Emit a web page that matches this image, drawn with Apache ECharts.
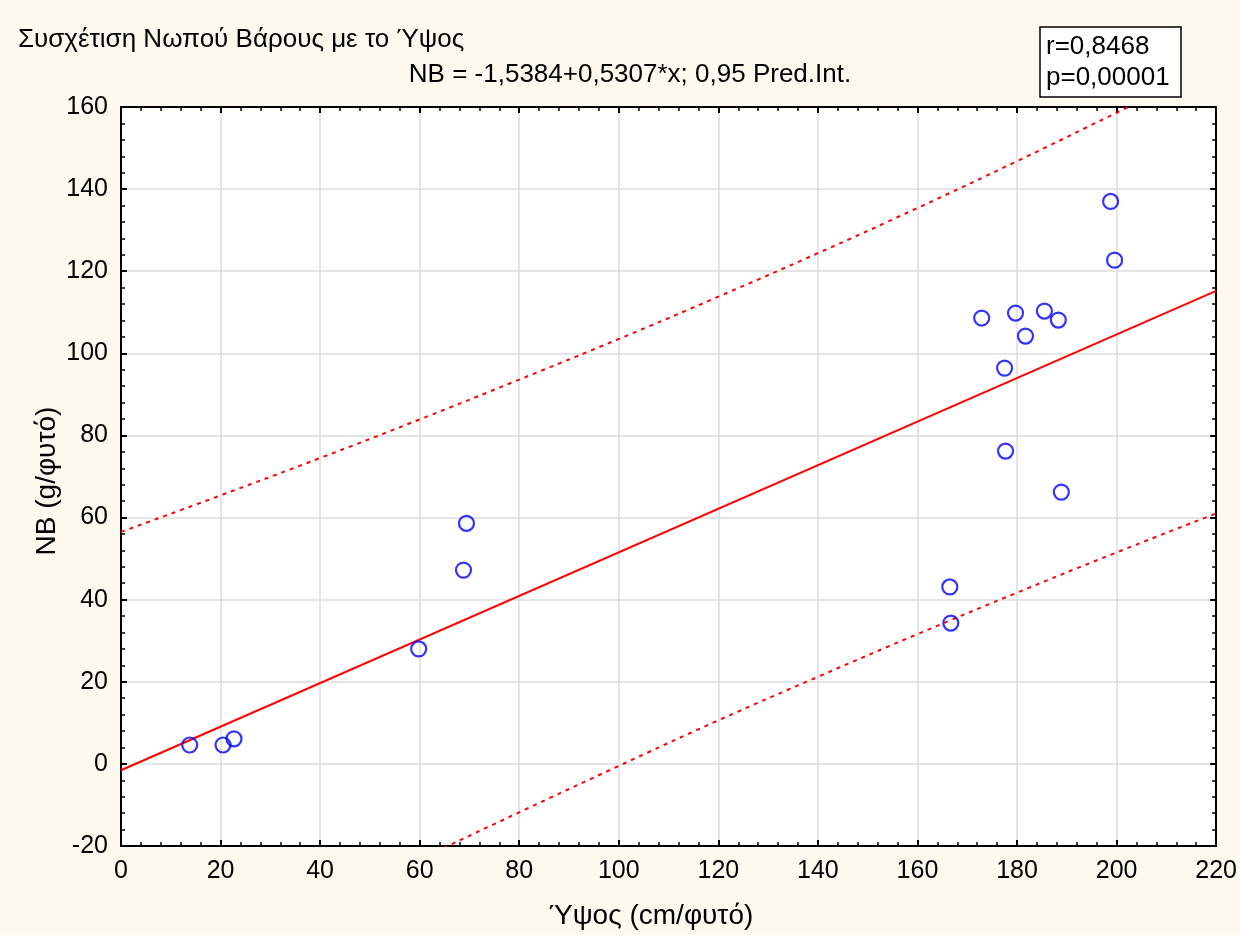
<!DOCTYPE html>
<html>
<head>
<meta charset="utf-8">
<title>Συσχέτιση Νωπού Βάρους με το Ύψος</title>
<script src="https://cdn.jsdelivr.net/npm/echarts@6/dist/echarts.min.js"></script>
<style>
  html, body { margin: 0; padding: 0; background: #fdf9ee; }
  #main { width: 1240px; height: 935px; }
</style>
</head>
<body>
<div id="main"></div>
<script>
// σημεία (Ύψος cm/φυτό, NB g/φυτό) όπως διαβάζονται από το διάγραμμα
var heightX = [13.8, 20.5, 22.7, 59.8, 68.8, 69.4, 166.5, 166.7, 172.9, 177.5, 177.7, 179.7, 181.7, 185.5, 188.3, 188.9, 198.8, 199.6];
var weightY = [4.6, 4.6, 6.1, 28.0, 47.2, 58.6, 43.1, 34.3, 108.6, 96.4, 76.2, 109.8, 104.2, 110.3, 108.1, 66.2, 137.0, 122.7];

// ευθεία παλινδρόμησης NB = -1,5384+0,5307*x (άκρα)
var fitX = [0, 220];
var fitY = [-1.54, 115.22];

// όρια πρόβλεψης 0,95
var bandX = [0, 20, 40, 60, 80, 100, 120, 140, 160, 180, 200, 220];
var bandUpper = [56.5, 65.4, 74.5, 83.9, 93.6, 103.5, 113.8, 124.4, 135.4, 146.8, 158.6, 170.3];
var bandLower = [-59.5, -47.2, -35.1, -23.3, -11.8, -0.5, 10.6, 21.2, 31.6, 41.7, 51.5, 61.0];

var titleText = 'Συσχέτιση Νωπού Βάρους με το Ύψος';
var subText = 'NB = -1,5384+0,5307*x; 0,95 Pred.Int.';
var statLines = ['r=0,8468', 'p=0,00001'];
var xName = 'Ύψος (cm/φυτό)';
var yName = 'NB (g/φυτό)';

function pairs(xs, ys) {
  var out = [];
  for (var i = 0; i < xs.length; i++) out.push([xs[i], ys[i]]);
  return out;
}

var font = '"Liberation Sans", Arial, sans-serif';

var chart = echarts.init(document.getElementById('main'));

function axisBase(pos, min, max, withLabel) {
  return {
    type: 'value',
    position: pos,
    min: min,
    max: max,
    interval: 20,
    axisLine: { show: true, onZero: false, lineStyle: { color: '#000', width: 2 } },
    axisTick: { show: true, inside: true, length: 6, lineStyle: { color: '#000', width: 2 } },
    minorTick: { show: true, splitNumber: 5, length: 4, lineStyle: { color: '#000', width: 1.5 } },
    axisLabel: { show: withLabel, color: '#000', fontSize: 25, fontFamily: font, margin: 13 },
    splitLine: { show: withLabel, lineStyle: { color: '#dcdcdc', width: 1.5 } }
  };
}

var option = {
  backgroundColor: '#fdf9ee',
  animation: false,
  grid: {
    left: 121, right: 22, top: 107, bottom: 89,
    show: true, backgroundColor: '#ffffff', borderWidth: 0
  },
  xAxis: [axisBase('bottom', 0, 220, true), axisBase('top', 0, 220, false)],
  yAxis: [axisBase('left', -20, 160, true), axisBase('right', -20, 160, false)],
  series: [
    {
      type: 'line',
      data: pairs(bandX, bandUpper),
      smooth: true,
      symbol: 'none',
      clip: true,
      lineStyle: { color: '#ff0000', width: 2, type: [4, 5] },
      z: 2
    },
    {
      type: 'line',
      data: pairs(bandX, bandLower),
      smooth: true,
      symbol: 'none',
      clip: true,
      lineStyle: { color: '#ff0000', width: 2, type: [4, 5] },
      z: 2
    },
    {
      type: 'line',
      data: pairs(fitX, fitY),
      symbol: 'none',
      clip: true,
      lineStyle: { color: '#ff0000', width: 2 },
      z: 3
    },
    {
      type: 'scatter',
      data: pairs(heightX, weightY),
      symbol: 'circle',
      symbolSize: 15,
      itemStyle: { color: 'rgba(255,255,255,0)', borderColor: '#0000ff', borderWidth: 2.2 },
      z: 4
    }
  ],
  graphic: [
    {
      type: 'text', x: 18, y: 40,
      style: { text: titleText, fill: '#000', font: '26px ' + font, textVerticalAlign: 'middle' }
    },
    {
      type: 'text', x: 630, y: 75,
      style: { text: subText, fill: '#000', font: '26px ' + font, textAlign: 'center', textVerticalAlign: 'middle' }
    },
    {
      type: 'rect',
      shape: { x: 1040, y: 27, width: 141, height: 70 },
      style: { fill: '#ffffff', stroke: '#000', lineWidth: 1.5 }
    },
    {
      type: 'text', x: 1046, y: 47,
      style: { text: statLines[0], fill: '#000', font: '26px ' + font, textVerticalAlign: 'middle' }
    },
    {
      type: 'text', x: 1046, y: 78,
      style: { text: statLines[1], fill: '#000', font: '26px ' + font, textVerticalAlign: 'middle' }
    },
    {
      type: 'text', x: 651, y: 916,
      style: { text: xName, fill: '#000', font: '28px ' + font, textAlign: 'center', textVerticalAlign: 'middle' }
    },
    {
      type: 'text', x: 47, y: 481, rotation: Math.PI / 2,
      style: { text: yName, fill: '#000', font: '28px ' + font, textAlign: 'center', textVerticalAlign: 'middle' }
    }
  ]
};

chart.setOption(option);
</script>
</body>
</html>
